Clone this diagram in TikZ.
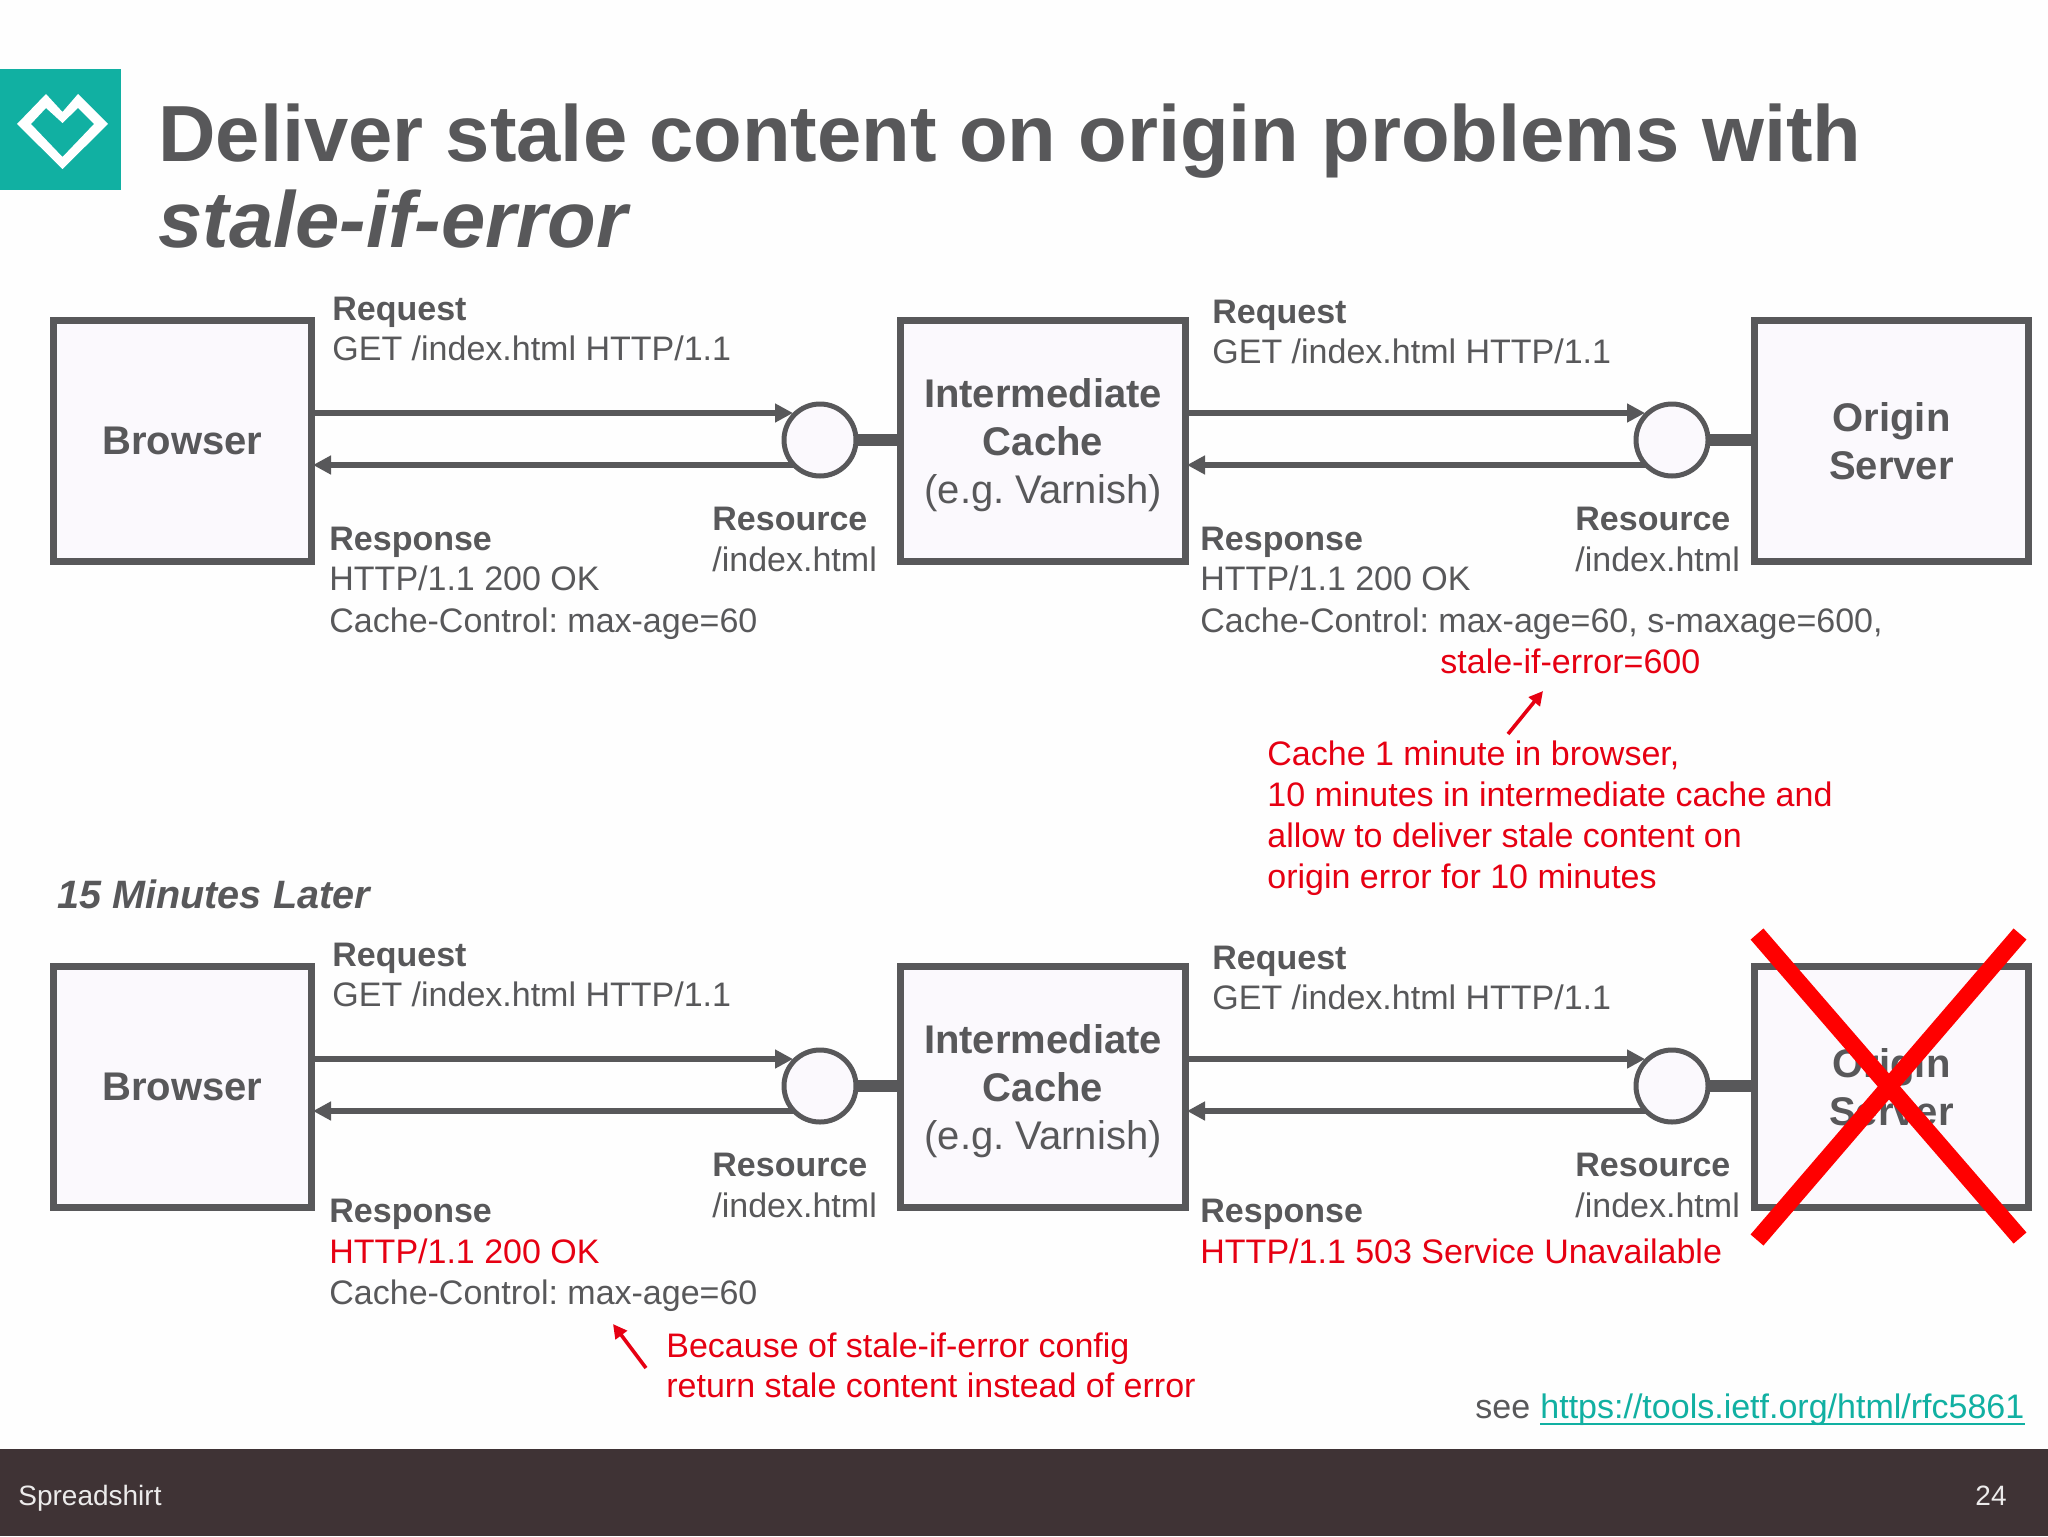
\documentclass[tikz,border=0pt]{standalone}
\usepackage{fontspec}
\setmainfont{Liberation Sans}
\usetikzlibrary{arrows.meta,calc}
\frenchspacing
\definecolor{ink}{HTML}{58585A}
\definecolor{redt}{HTML}{E60012}
\definecolor{teal}{HTML}{11B0A2}
\definecolor{foot}{HTML}{3F3335}
\definecolor{boxfill}{HTML}{FBF9FD}
\tikzset{
  px/.style={x=0.5pt,y=-0.5pt},
  boxn/.style={draw=ink,line width=3.5pt,fill=boxfill,text=ink,align=center,inner sep=0pt,minimum height=120.5pt,
    font=\fontsize{20}{24}\selectfont\frenchspacing},
  boxlabel/.style={text=ink,align=center,inner sep=0pt,font=\fontsize{20}{24}\selectfont\frenchspacing},
  port/.style={circle,draw=ink,line width=2.5pt,fill=boxfill,minimum size=36pt,inner sep=0pt},
  link/.style={draw=ink,line width=2.8pt},
  stub/.style={draw=ink,line width=6pt},
  tipin/.style={-{Triangle[length=9pt,width=9pt]}},
  txt/.style={anchor=base west,inner sep=0pt,text=ink,font=\fontsize{17}{20}\selectfont\frenchspacing},
  btxt/.style={txt,font=\fontsize{17}{20}\selectfont\bfseries},
  rtxt/.style={txt,text=redt},
  rtip/.style={draw=redt,line width=1.8pt,-{Triangle[length=7pt,width=7pt]}},
  cross/.style={draw=red,line width=8.5pt},
}
\newcommand{\diagramrow}{%
  \node[boxn,minimum width=129pt] (browser) at (182.5,441) {\textbf{Browser}};
  \node[boxn,minimum width=142.5pt] (cache) at (1043,441) {};
  \node[boxlabel] (cachelabel) at (1043,445) {\textbf{Intermediate}\\\textbf{Cache}\\(e.g. Varnish)};
  \node[boxn,minimum width=137pt] (origin) at (1891.5,441) {\textbf{Origin}\\\textbf{Server}};
  \draw[stub] (820,440) -- (899,440);
  \draw[stub] (1672,440) -- (1753,440);
  \coordinate (a1) at (313,413);
  \coordinate (a2) at (793,413);
  \coordinate (b1) at (795,465);
  \coordinate (b2) at (313,465);
  \coordinate (c1) at (1187,413);
  \coordinate (c2) at (1645,413);
  \coordinate (d1) at (1647,465);
  \coordinate (d2) at (1187,465);
  \draw[link,tipin] (a1) -- (a2);
  \draw[link,tipin] (b1) -- (b2);
  \draw[link,tipin] (c1) -- (c2);
  \draw[link,tipin] (d1) -- (d2);
  \node[port] (pa) at (820,440) {};
  \node[port] (pb) at (1672,440) {};
  \node[btxt] (rs1) at (712,530) {Resource};
  \node[txt] (ri1) at (712,571) {/index.html};
  \node[btxt] (rs2) at (1575,530) {Resource};
  \node[txt] (ri2) at (1575,571) {/index.html};
  \node[btxt] (rq1) at (332,320) {Request};
  \node[txt] (rg1) at (332,360.5) {GET /index.html HTTP/1.1};
  \node[btxt] (rq2) at (1212,323) {Request};
  \node[txt] (rg2) at (1212,363.5) {GET /index.html HTTP/1.1};
}
\begin{document}
\begin{tikzpicture}[px]
\useasboundingbox (0,0) rectangle (2048,1536);
\fill[white!99.5!black] (0,0) rectangle (2048,1536);
% logo
\fill[teal] (0,69) rectangle (121,190);
\fill[white,even odd rule] (17,124) -- (46,94) -- (62.5,112) -- (78,94) -- (108,124) -- (62.5,169) -- cycle
  (31,124) -- (46,108) -- (62.5,123) -- (78,108) -- (94,124) -- (62.5,157) -- cycle;
% title
\node[txt,font=\fontsize{39.8}{44}\selectfont\bfseries] (title1) at (158,161) {Deliver stale content on origin problems with};
\node[txt,font=\fontsize{39.8}{44}\selectfont\bfseries\itshape] (title2) at (158,247) {stale-if-error};
% first row
\begin{scope}[name prefix=u-]
\diagramrow
\end{scope}
\node[btxt] (up1) at (329,550) {Response};
\node[btxt] (up2) at (1200,550) {Response};
\node[txt] (u1) at (329,590) {HTTP/1.1 200 OK};
\node[txt] (u2) at (329,632) {Cache-Control: max-age=60};
\node[txt] (u3) at (1200,590) {HTTP/1.1 200 OK};
\node[txt] (u4) at (1200,632) {Cache-Control: max-age=60, s-maxage=600,};
\node[rtxt] (u5) at (1440,673) {stale-if-error=600};
\coordinate (n1a) at (1508,734);
\coordinate (n1b) at (1543,691);
\draw[rtip] (n1a) -- (n1b);
\node[rtxt] (n1) at (1267,765) {Cache 1 minute in browser,};
\node[rtxt] (n2) at (1267,806) {10 minutes in intermediate cache and};
\node[rtxt] (n3) at (1267,847) {allow to deliver stale content on};
\node[rtxt] (n4) at (1267,888) {origin error for 10 minutes};
\node[btxt,font=\fontsize{19.8}{22}\selectfont\bfseries\itshape] (later) at (57,908) {15 Minutes Later};
% second row
\begin{scope}[yshift=-323pt,name prefix=l-]
\diagramrow
\end{scope}
\coordinate (x1) at (1757,934);
\coordinate (x2) at (2020,1238);
\coordinate (x3) at (2020,934);
\coordinate (x4) at (1757,1240);
\draw[cross] (x1) -- (x2);
\draw[cross] (x3) -- (x4);
\node[btxt] (vp1) at (329,1222) {Response};
\node[btxt] (vp2) at (1200,1222) {Response};
\node[rtxt] (v1) at (329,1263) {HTTP/1.1 200 OK};
\node[txt] (v2) at (329,1304) {Cache-Control: max-age=60};
\node[rtxt] (v3) at (1200,1263) {HTTP/1.1 503 Service Unavailable};
\coordinate (n2a) at (646,1368);
\coordinate (n2b) at (613,1324);
\draw[rtip] (n2a) -- (n2b);
\node[rtxt] (w1) at (666,1357) {Because of stale-if-error config};
\node[rtxt] (w2) at (666,1397) {return stale content instead of error};
\node[txt] (see) at (1475,1418) {see};
\node[txt,text=teal] (url) at (1540,1418) {https://tools.ietf.org/html/rfc5861};
\draw[teal,line width=1.1pt] ($(url.base west)+(0,6)$) -- ($(url.base east)+(0,6)$);
% footer
\fill[foot] (0,1449) rectangle (2048,1536);
\node[txt,text=white!90!foot,font=\fontsize{14}{16}\selectfont] (brand) at (18,1505) {Spreadshirt};
\node[txt,anchor=base east,text=white!90!foot,font=\fontsize{14}{16}\selectfont] (page) at (2007,1505) {24};
\end{tikzpicture}
\end{document}
